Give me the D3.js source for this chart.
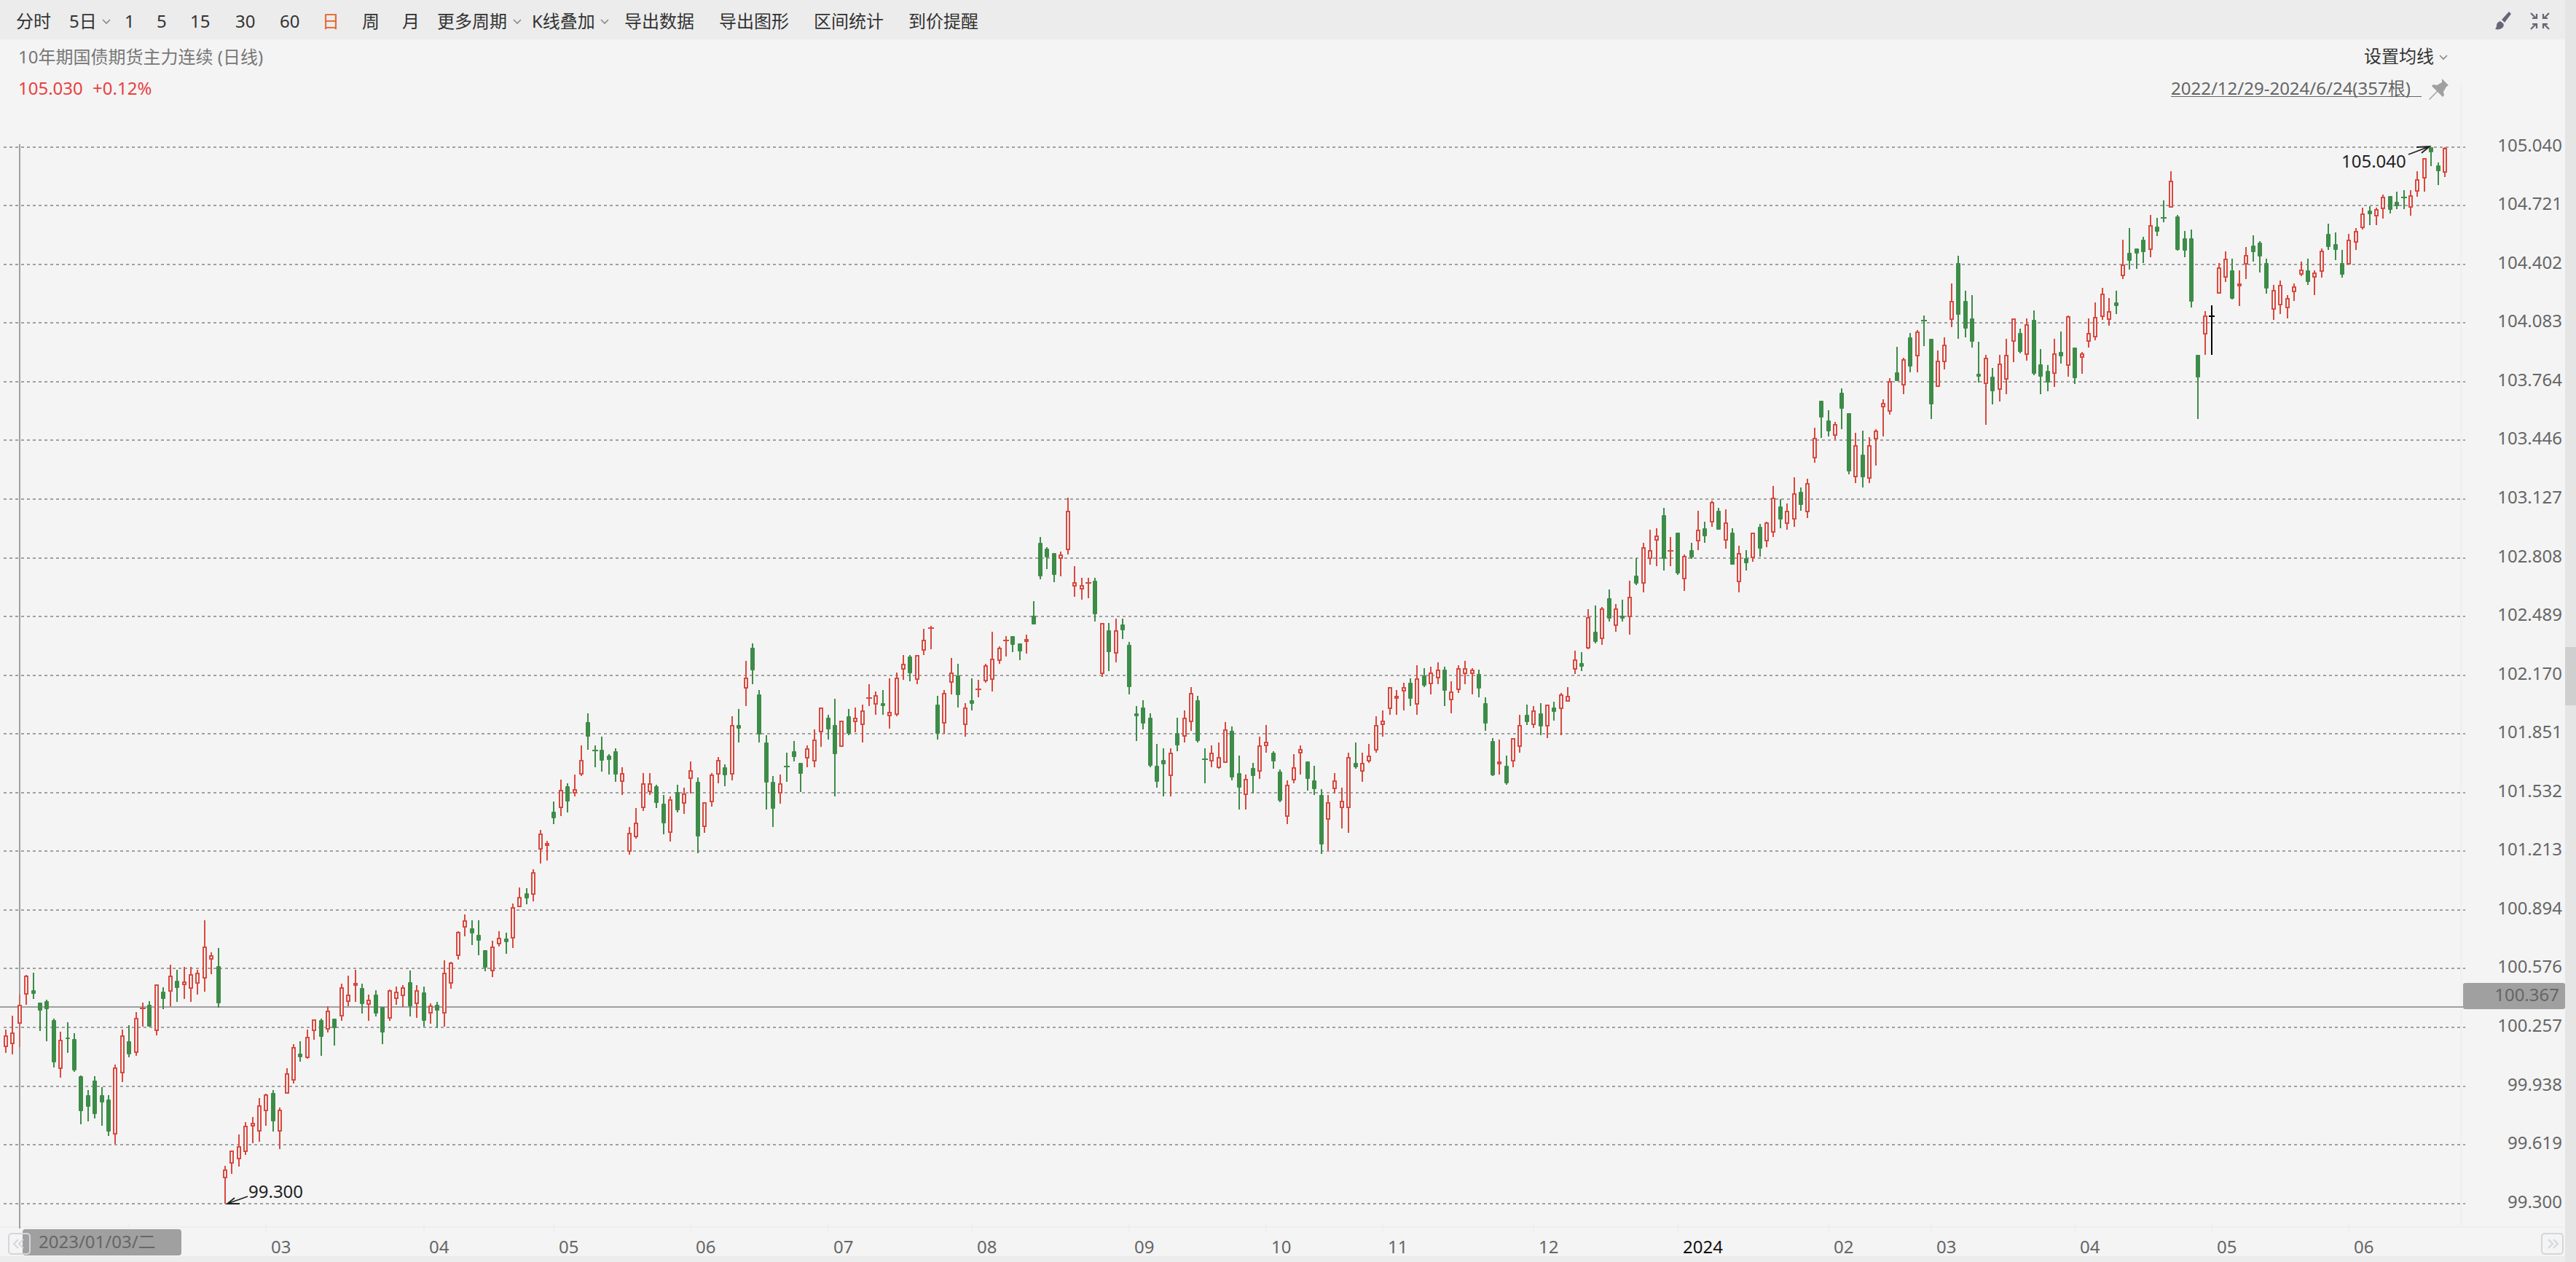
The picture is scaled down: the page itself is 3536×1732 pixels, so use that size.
<!DOCTYPE html>
<html><head><meta charset="utf-8">
<script src="https://cdn.jsdelivr.net/npm/d3@7/dist/d3.min.js"></script>
<style>html,body{margin:0;padding:0;background:#f4f4f4;overflow:hidden}svg{display:block}
text{font-family:"Noto Sans","Noto Sans CJK SC",sans-serif;font-size:24px}</style></head><body>
<svg id="c" width="3536" height="1732"></svg>
<script>
const highs=[
100.243,100.322,100.434,100.543,100.552,100.393,100.409,100.306,100.235,100.283,
100.227,99.997,99.918,99.990,99.934,99.887,100.053,100.243,100.267,100.338,
100.393,100.401,100.487,100.473,100.599,100.568,100.584,100.584,100.568,100.837,
100.663,100.687,99.506,99.584,99.673,99.744,99.768,99.871,99.895,99.918,
99.823,100.037,100.164,100.180,100.243,100.297,100.306,100.370,100.306,100.496,
100.536,100.568,100.496,100.433,100.457,100.367,100.464,100.480,100.487,100.566,
100.487,100.480,100.386,100.394,100.622,100.614,100.781,100.870,100.838,100.838,
100.678,100.726,100.781,100.773,100.931,101.018,101.011,101.114,101.328,101.272,
101.484,101.603,101.583,101.629,101.788,101.962,101.788,101.835,101.740,101.772,
101.669,101.344,101.447,101.637,101.637,101.574,101.518,101.510,101.574,101.558,
101.700,101.613,101.477,101.637,101.724,101.685,101.946,101.986,102.247,102.342,
102.089,101.843,101.621,101.629,101.748,101.811,101.693,101.788,101.875,101.992,
101.954,102.041,101.921,101.986,101.994,102.009,102.120,102.081,102.089,102.152,
102.184,102.279,102.279,102.279,102.421,102.437,102.057,102.089,102.263,102.231,
102.017,102.152,102.144,102.231,102.405,102.326,102.382,102.382,102.342,102.390,
102.571,102.920,102.864,102.833,102.841,103.134,102.761,102.698,102.698,102.698,
102.452,102.452,102.476,102.476,102.350,102.001,102.033,101.961,101.795,101.771,
101.771,101.938,101.977,102.104,102.056,101.771,101.787,101.803,101.914,101.890,
101.732,101.629,101.692,101.835,101.898,101.756,101.660,101.597,101.740,101.787,
101.700,101.676,101.550,101.518,101.637,101.558,101.748,101.803,101.748,101.795,
101.946,101.977,102.104,102.088,102.128,102.152,102.223,102.207,102.215,102.239,
102.215,102.136,102.223,102.247,102.207,102.199,102.049,101.827,101.819,101.732,
101.825,101.954,102.009,102.001,102.017,102.008,102.025,102.072,102.104,102.302,
102.294,102.531,102.547,102.539,102.634,102.555,102.579,102.682,102.808,102.888,
102.959,102.967,103.078,102.919,102.943,102.824,102.888,103.062,103.006,103.117,
103.078,103.070,102.967,102.872,102.848,102.942,102.991,103.006,103.197,103.125,
103.102,103.244,103.189,103.236,103.513,103.663,103.608,103.545,103.727,103.592,
103.489,103.497,103.465,103.505,103.671,103.782,103.956,103.893,104.028,104.044,
104.123,103.996,103.933,104.004,104.297,104.448,104.257,104.234,103.980,103.909,
103.838,103.909,103.996,104.106,104.052,104.107,104.154,103.941,103.854,103.996,
104.036,104.123,103.949,103.925,104.107,104.194,104.273,104.218,104.258,104.535,
104.599,104.488,104.551,104.670,104.654,104.749,104.907,104.670,104.583,104.591,
103.910,104.147,104.179,104.409,104.472,104.432,104.369,104.496,104.559,104.527,
104.432,104.290,104.313,104.234,104.298,104.416,104.432,104.369,104.488,104.622,
104.575,104.480,104.567,104.599,104.709,104.717,104.709,104.781,104.773,104.797,
104.805,104.805,104.907,104.977,105.040,104.955,105.040];
const lows=[
100.118,100.111,100.151,100.380,100.411,100.236,100.181,100.038,99.984,100.118,
100.015,99.731,99.747,99.763,99.723,99.667,99.625,99.961,100.095,100.103,
100.261,100.259,100.214,100.357,100.372,100.396,100.412,100.396,100.436,100.452,
100.547,100.364,99.300,99.462,99.501,99.565,99.628,99.636,99.723,99.691,
99.596,99.900,99.953,100.071,100.087,100.190,100.103,100.230,100.159,100.293,
100.370,100.396,100.333,100.291,100.317,100.164,100.291,100.378,100.369,100.317,
100.307,100.259,100.276,100.251,100.259,100.467,100.624,100.751,100.703,100.648,
100.562,100.530,100.696,100.655,100.688,100.912,100.925,100.942,101.147,101.163,
101.361,101.404,101.425,101.513,101.624,101.766,101.671,101.648,101.632,101.592,
101.521,101.196,101.283,101.434,101.521,101.450,101.307,101.268,101.426,101.418,
101.529,101.204,101.315,101.458,101.584,101.568,101.600,101.806,102.004,102.123,
101.806,101.442,101.347,101.473,101.592,101.703,101.537,101.671,101.671,101.782,
101.822,101.513,101.784,101.846,101.859,101.806,102.004,101.957,101.957,101.879,
101.949,102.147,102.139,102.123,102.281,102.313,101.822,101.854,102.067,101.996,
101.838,101.980,102.052,102.131,102.083,102.234,102.273,102.297,102.250,102.289,
102.447,102.693,102.748,102.677,102.709,102.827,102.598,102.582,102.590,102.463,
102.162,102.194,102.241,102.368,102.067,101.814,101.877,101.671,101.560,101.513,
101.513,101.758,101.806,101.869,101.806,101.584,101.671,101.663,101.695,101.600,
101.441,101.441,101.528,101.608,101.750,101.663,101.481,101.362,101.584,101.631,
101.544,101.521,101.198,101.218,101.528,101.338,101.315,101.663,101.592,101.695,
101.750,101.837,101.956,101.956,101.980,102.004,101.956,102.107,102.067,102.122,
102.004,101.964,102.075,102.122,102.067,102.051,101.869,101.624,101.631,101.576,
101.671,101.750,101.901,101.885,101.845,101.829,101.924,101.845,102.029,102.178,
102.193,102.312,102.344,102.335,102.463,102.407,102.463,102.391,102.661,102.621,
102.772,102.764,102.740,102.764,102.716,102.629,102.803,102.851,102.890,102.977,
102.962,102.859,102.772,102.621,102.740,102.787,102.816,102.867,102.922,102.970,
102.962,102.977,103.065,103.025,103.326,103.460,103.468,103.450,103.508,103.262,
103.215,103.191,103.215,103.310,103.468,103.587,103.769,103.698,103.817,103.817,
103.959,103.563,103.737,103.832,104.062,103.999,104.007,103.951,103.761,103.531,
103.642,103.658,103.698,103.872,103.920,103.880,103.801,103.698,103.714,103.737,
103.864,103.793,103.753,103.809,103.951,103.991,104.102,104.070,104.134,104.324,
104.372,104.379,104.409,104.443,104.554,104.633,104.713,104.475,104.443,104.166,
103.564,103.912,103.912,104.246,104.308,104.213,104.174,104.324,104.419,104.356,
104.245,104.102,104.134,104.110,104.205,104.340,104.292,104.237,104.332,104.482,
104.427,104.332,104.405,104.482,104.593,104.617,104.617,104.649,104.680,104.704,
104.704,104.665,104.768,104.799,104.934,104.831,104.878];
const opens=[
100.153,100.169,100.280,100.438,100.457,100.393,100.401,100.298,100.034,100.202,
100.195,99.991,99.887,99.966,99.887,99.863,99.678,100.011,100.180,100.122,
100.360,100.378,100.239,100.449,100.454,100.511,100.492,100.469,100.500,100.525,
100.627,100.591,99.440,99.520,99.543,99.583,99.724,99.694,99.805,99.902,
99.694,99.900,99.971,100.115,100.095,100.239,100.297,100.248,100.306,100.320,
100.400,100.485,100.471,100.382,100.433,100.367,100.310,100.414,100.429,100.504,
100.389,100.448,100.334,100.378,100.334,100.500,100.650,100.803,100.797,100.758,
100.678,100.564,100.714,100.741,100.745,100.912,100.987,100.983,101.228,101.245,
101.428,101.452,101.566,101.532,101.633,101.914,101.763,101.764,101.732,101.756,
101.594,101.213,101.293,101.451,101.538,101.566,101.471,101.316,101.534,101.475,
101.609,101.590,101.348,101.483,101.633,101.669,101.633,101.898,102.100,102.318,
102.065,101.803,101.590,101.530,101.675,101.756,101.693,101.720,101.704,101.865,
101.938,101.898,101.784,101.946,101.918,101.902,102.048,102.013,102.017,101.950,
101.958,102.203,102.271,102.148,102.306,102.428,102.009,101.910,102.132,102.168,
101.902,102.033,102.095,102.140,102.148,102.251,102.357,102.382,102.342,102.354,
102.492,102.888,102.856,102.833,102.805,102.852,102.656,102.639,102.672,102.682,
102.179,102.413,102.290,102.445,102.334,101.961,101.993,101.938,101.676,101.708,
101.625,101.858,101.839,101.918,102.033,101.715,101.707,101.672,101.696,101.866,
101.637,101.522,101.668,101.649,101.790,101.748,101.645,101.403,101.601,101.750,
101.700,101.597,101.518,101.387,101.554,101.451,101.451,101.692,101.649,101.704,
101.767,101.902,101.989,102.045,102.084,102.128,102.013,102.167,102.124,102.155,
102.199,102.037,102.092,102.179,102.179,102.175,102.017,101.811,101.688,101.676,
101.704,101.783,101.954,101.902,101.961,101.894,101.993,101.989,102.029,102.203,
102.238,102.321,102.405,102.370,102.587,102.440,102.492,102.488,102.713,102.670,
102.805,102.907,103.038,102.847,102.943,102.694,102.848,102.900,102.967,103.003,
103.062,102.907,102.943,102.678,102.808,102.812,102.975,102.900,102.947,103.086,
102.995,103.018,103.165,103.058,103.351,103.663,103.553,103.477,103.703,103.592,
103.248,103.370,103.240,103.454,103.629,103.604,103.814,103.747,104.004,103.905,
104.098,103.996,103.741,103.873,104.103,104.408,104.202,104.107,103.807,103.755,
103.790,103.723,103.778,103.984,104.028,103.913,104.099,103.861,103.822,103.810,
103.925,103.857,103.949,103.897,103.984,104.008,104.119,104.103,104.195,104.341,
104.464,104.488,104.535,104.484,104.607,104.653,104.713,104.662,104.543,104.543,
103.910,104.024,104.121,104.246,104.333,104.369,104.286,104.405,104.504,104.519,
104.409,104.159,104.183,104.167,104.254,104.349,104.369,104.333,104.365,104.567,
104.511,104.409,104.405,104.523,104.603,104.694,104.666,104.706,104.773,104.741,
104.764,104.713,104.801,104.872,105.037,104.939,104.904];
const closes=[
100.210,100.226,100.375,100.535,100.437,100.349,100.357,100.065,100.186,100.192,
100.023,99.802,99.827,99.786,99.850,99.691,100.036,100.210,100.111,100.305,
100.360,100.261,100.487,100.412,100.535,100.469,100.503,100.543,100.551,100.693,
100.646,100.388,99.481,99.584,99.608,99.719,99.735,99.830,99.887,99.748,
99.806,100.004,100.147,100.096,100.202,100.297,100.207,100.345,100.254,100.471,
100.432,100.495,100.382,100.405,100.333,100.231,100.455,100.446,100.471,100.373,
100.455,100.293,100.370,100.347,100.550,100.606,100.773,100.835,100.768,100.729,
100.580,100.693,100.740,100.721,100.906,100.962,100.958,101.097,101.304,101.256,
101.392,101.543,101.484,101.547,101.707,101.838,101.760,101.704,101.711,101.632,
101.636,101.311,101.367,101.580,101.580,101.475,101.364,101.493,101.435,101.525,
101.652,101.293,101.477,101.628,101.707,101.625,101.897,101.879,102.151,102.195,
101.847,101.586,101.443,101.580,101.673,101.727,101.633,101.770,101.818,101.992,
101.877,101.743,101.921,101.854,101.937,101.976,102.048,102.056,102.004,101.968,
102.151,102.230,102.180,102.277,102.357,102.428,101.854,102.071,102.182,102.060,
101.992,102.013,102.095,102.222,102.254,102.317,102.357,102.337,102.298,102.364,
102.447,102.709,102.812,102.716,102.823,103.061,102.672,102.657,102.672,102.503,
102.451,102.297,102.412,102.416,102.107,101.948,101.909,101.679,101.592,101.687,
101.746,101.790,101.936,102.071,101.814,101.712,101.746,101.723,101.873,101.616,
101.560,101.604,101.624,101.786,101.803,101.703,101.489,101.572,101.667,101.765,
101.608,101.552,101.251,101.477,101.596,101.485,101.723,101.671,101.691,101.730,
101.897,101.921,102.103,102.055,102.103,102.043,102.150,102.115,102.182,102.198,
102.084,102.079,102.206,102.206,102.198,102.099,101.909,101.625,101.699,101.584,
101.825,101.897,101.917,101.976,101.893,102.008,101.972,102.063,102.055,102.253,
102.217,102.482,102.352,102.530,102.478,102.530,102.478,102.593,102.669,102.863,
102.847,102.926,102.803,102.847,102.724,102.815,102.811,102.958,102.923,103.108,
102.962,102.997,102.772,102.831,102.779,102.942,102.859,102.997,103.132,103.017,
103.061,103.156,103.096,103.211,103.456,103.572,103.493,103.529,103.619,103.279,
103.417,103.246,103.417,103.496,103.646,103.765,103.769,103.884,103.848,104.034,
104.095,103.642,103.876,103.963,104.201,104.127,104.055,103.983,103.793,103.892,
103.714,103.860,103.908,104.106,103.927,104.074,103.809,103.793,103.761,103.916,
103.904,104.115,103.785,103.916,104.026,104.114,104.240,104.145,104.175,104.399,
104.420,104.460,104.468,104.613,104.579,104.650,104.851,104.481,104.476,104.199,
103.787,104.122,104.121,104.383,104.431,104.214,104.296,104.447,104.467,104.444,
104.269,104.257,104.288,104.217,104.280,104.368,104.308,104.352,104.471,104.498,
104.482,104.348,104.534,104.581,104.676,104.673,104.700,104.764,104.698,104.720,
104.761,104.772,104.859,104.977,105.013,104.910,105.030];
const priceTicks=["105.040","104.721","104.402","104.083","103.764","103.446","103.127","102.808","102.489","102.170","101.851","101.532","101.213","100.894","100.576","100.257","99.938","99.619","99.300"];
const monthStarts=[18,38,61,80,100,120,141,164,184,201,223,244,266,281,302,322,342];
const monthLabels=["","03","04","05","06","07","08","09","10","11","12","2024","02","03","04","05","06"];
const toolbarLeft=["分时","5日","1","5","15","30","60","日","周","月","更多周期","K线叠加","导出数据","导出图形","区间统计","到价提醒"];
const toolbarX=[22,95,171,215,261,323,384,442,497,552,600,730,857,987,1117,1247];
const crossPrice=100.367, crossIndex=2, hoverIndex=322, minIndex=32, maxIndex=354;
const RED="#d9493f",GREEN="#3d8c48",GRID="#a0a0a0",BG="#f5f5f5";

const svg=d3.select("#c");
const x=d3.scaleLinear().domain([0,356]).range([8,3356]);
const y=d3.scaleLinear().domain([99.3,105.04]).range([1651.7,201.7]);
const X=i=>Math.round(x(i)), Y=v=>Math.round(y(v));

svg.append("rect").attr("width",3536).attr("height",1732).attr("fill","#f4f4f4");
svg.append("rect").attr("width",3536).attr("height",54).attr("fill","#ececec");
svg.append("rect").attr("y",1724).attr("width",3536).attr("height",8).attr("fill","#ececec");
svg.append("rect").attr("x",3521).attr("width",15).attr("height",1732).attr("fill","#e5e5e5");
svg.append("rect").attr("x",3521).attr("y",888).attr("width",15).attr("height",80).attr("fill","#cfcfcf");

function txt(s,px,py,fill,anchor){return svg.append("text").attr("x",px).attr("y",py).attr("dy","0.35em").attr("fill",fill).attr("text-anchor",anchor||"start").text(s);}
function chevron(cx,cy){svg.append("path").attr("d",`M${cx-5},${cy-2}L${cx},${cy+3}L${cx+5},${cy-2}`).attr("fill","none").attr("stroke","#888").attr("stroke-width",1.6);}

svg.selectAll("text.tb").data(toolbarLeft).join("text").attr("class","tb")
 .attr("x",(d,i)=>toolbarX[i]).attr("y",30).attr("dy","0.35em")
 .attr("fill",d=>d==="日"?"#e8622c":"#333").text(d=>d);
[146,710,830].forEach(c=>chevron(c,29));

txt("10年期国债期货主力连续 (日线)",25,79,"#777");
txt("105.030 +0.12%",25,122,"#e8413e").attr("word-spacing","7px");
txt("设置均线",3245,78,"#333"); chevron(3354,78);
txt("2022/12/29-2024/6/24(357根)",2980,122,"#666");
svg.append("line").attr("x1",2980).attr("x2",3324).attr("y1",132.5).attr("y2",132.5).attr("stroke","#666").attr("stroke-width",1);
// pin
svg.append("path").attr("d","M3352,108l9,9l-3,2l-4,7l1,5l-2,2l-7,-7l-11,11l-1,-1l11,-11l-7,-7l2,-2l5,1l7,-4z").attr("fill","#a0a0a0");
// brush
svg.append("path").attr("d","M3447,19l-3,-3l-10,11l4,4z M3432,29c-3,1,-5,3,-5,6c0,2,-1,4,-2,5c4,1,9,0,11,-3c1,-2,1,-3,0,-5z").attr("fill","#667");
// compress
svg.append("path").attr("d","M3474,18l7,7 M3476,25h6v-6 M3499,18l-7,7 M3497,25h-6v-6 M3474,40l7,-7 M3476,33h6v6 M3499,40l-7,-7 M3497,33h-6v6").attr("fill","none").attr("stroke","#667").attr("stroke-width",2.2);

// axes frame
svg.append("line").attr("x1",3378.5).attr("x2",3378.5).attr("y1",113).attr("y2",1684).attr("stroke","#eee").attr("stroke-width",2);
svg.append("line").attr("x1",0).attr("x2",3518).attr("y1",1684).attr("y2",1684).attr("stroke","#eee").attr("stroke-width",2);

// grid & price labels
svg.selectAll("line.grid").data(priceTicks).join("line").attr("class","grid")
 .attr("x1",5).attr("x2",3384).attr("y1",d=>Y(+d)).attr("y2",d=>Y(+d))
 .attr("stroke",GRID).attr("stroke-width",2).attr("stroke-dasharray","4 4").attr("shape-rendering","crispEdges");
svg.selectAll("text.pt").data(priceTicks).join("text").attr("class","pt")
 .attr("x",3517).attr("y",d=>Y(+d)-2).attr("dy","0.35em").attr("text-anchor","end").attr("fill","#666").text(d=>d);

// month ticks
svg.selectAll("line.mt").data(monthStarts).join("line").attr("class","mt")
 .attr("x1",d=>X(d)).attr("x2",d=>X(d)).attr("y1",1679).attr("y2",1691).attr("stroke","#eee").attr("stroke-width",2);
svg.selectAll("text.ml").data(monthStarts).join("text").attr("class","ml")
 .attr("x",d=>X(d)+7).attr("y",1712).attr("dy","0.35em")
 .attr("fill",(d,i)=>monthLabels[i]==="2024"?"#111":"#666").text((d,i)=>monthLabels[i]);

// crosshair
svg.append("line").attr("x1",0).attr("x2",3381).attr("y1",Y(crossPrice)).attr("y2",Y(crossPrice)).attr("stroke",GRID).attr("stroke-width",2);
svg.append("line").attr("x1",X(crossIndex)).attr("x2",X(crossIndex)).attr("y1",198).attr("y2",1686).attr("stroke",GRID).attr("stroke-width",2);

// candles
const idx=d3.range(closes.length);
const colour=i=>i===hoverIndex?"#000":(closes[i]>=opens[i]?RED:GREEN);
const g=svg.append("g").attr("shape-rendering","crispEdges");
const bodyTop=i=>Y(Math.max(opens[i],closes[i])), bodyBot=i=>Y(Math.min(opens[i],closes[i]));
g.selectAll("line.wu").data(idx).join("line").attr("class","wu")
 .attr("x1",X).attr("x2",X).attr("y1",i=>Y(highs[i])).attr("y2",bodyTop)
 .attr("stroke",colour).attr("stroke-width",2).attr("opacity",i=>i===crossIndex?.6:1);
g.selectAll("line.wd").data(idx).join("line").attr("class","wd")
 .attr("x1",X).attr("x2",X).attr("y1",bodyBot).attr("y2",i=>Y(lows[i]))
 .attr("stroke",colour).attr("stroke-width",2).attr("opacity",i=>i===crossIndex?.6:1);
const isDoji=i=>bodyBot(i)-bodyTop(i)<2;
g.selectAll("line.dj").data(idx.filter(isDoji)).join("line").attr("class","dj")
 .attr("x1",i=>X(i)-4).attr("x2",i=>X(i)+4).attr("y1",bodyTop).attr("y2",bodyTop)
 .attr("stroke",colour).attr("stroke-width",2);
const bodies=idx.filter(i=>!isDoji(i));
g.selectAll("rect.up").data(bodies.filter(i=>closes[i]>=opens[i])).join("rect").attr("class","up")
 .attr("x",i=>X(i)-2).attr("width",4).attr("y",bodyTop).attr("height",i=>bodyBot(i)-bodyTop(i))
 .attr("fill",BG).attr("stroke",RED).attr("stroke-width",2);
svg.selectAll("rect.dn").data(bodies.filter(i=>closes[i]<opens[i])).join("rect").attr("class","dn")
 .attr("x",i=>X(i)-3).attr("width",6).attr("y",bodyTop).attr("height",i=>bodyBot(i)-bodyTop(i)).attr("rx",1)
 .attr("fill",GREEN);

// extreme annotations
function arrow(x1,y1,x2,y2,b1,b2){
 svg.append("path").attr("d",`M${x1},${y1}L${x2},${y2}M${b1[0]},${b1[1]}L${x2},${y2}L${b2[0]},${b2[1]}`)
  .attr("fill","none").attr("stroke","#222").attr("stroke-width",1.8);
}
const hx=X(maxIndex),hy=Y(highs[maxIndex]),lx=X(minIndex),ly=Y(lows[minIndex]);
txt(highs[maxIndex].toFixed(3),hx-123,hy+20,"#222");
arrow(hx-31,hy+10,hx-2,hy-1,[hx-20,hy],[hx-13,hy+8]);
txt(lows[minIndex].toFixed(3),lx+32,ly-16,"#222");
arrow(lx+31,ly-10,lx+3,ly,[lx+13,ly-8],[lx+20,ly]);

// tags
svg.append("rect").attr("x",3381).attr("y",1349).attr("width",140).attr("height",36).attr("rx",3).attr("fill","#a0a0a0");
txt(crossPrice.toFixed(3),3513,1366,"#666","end");
svg.append("rect").attr("x",31).attr("y",1687).attr("width",218).attr("height",36).attr("rx",4).attr("fill","#a0a0a0");
txt("2023/01/03/二",53,1705,"#666");
// pager buttons
[[12,"M32,1701l-6,6l6,6 M25,1701l-6,6l6,6"],[3489,"M3498,1701l6,6l-6,6 M3505,1701l6,6l-6,6"]].forEach(([bx,d])=>{
 svg.append("rect").attr("x",bx).attr("y",1693).attr("width",29).attr("height",28).attr("rx",4).attr("fill","none").attr("stroke","#d4d6dc").attr("stroke-width",2);
 svg.append("path").attr("d",d).attr("fill","none").attr("stroke","#d4d6dc").attr("stroke-width",2);
});
</script></body></html>
